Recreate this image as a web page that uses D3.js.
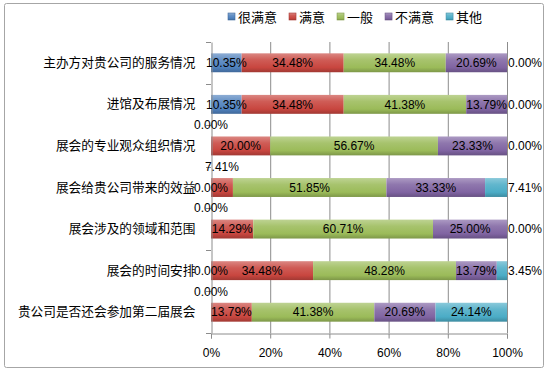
<!DOCTYPE html>
<html>
<head>
<meta charset="utf-8">
<script src="https://cdn.jsdelivr.net/npm/d3@7"></script>
<style>
  body { margin: 0; background: #fff; }
  svg text { font-family: "Liberation Sans", Arial, sans-serif; }
  .cat, .leg { font-family: "Noto Sans CJK SC", "Noto Sans", sans-serif; }
</style>
</head>
<body>
<svg id="chart" width="550" height="374"></svg>
<script>
// ---- data ----
const categories = [
  "主办方对贵公司的服务情况",
  "进馆及布展情况",
  "展会的专业观众组织情况",
  "展会给贵公司带来的效益",
  "展会涉及的领域和范围",
  "展会的时间安排",
  "贵公司是否还会参加第二届展会"
];
const seriesNames = ["很满意", "满意", "一般", "不满意", "其他"];
const seriesColors = ["#4f81bd", "#c8463f", "#9bbb59", "#8064a2", "#4bacc6"];

// percent per category, one array per series
const veryGood = [10.35, 10.35, 0.00, 0.00, 0.00, 0.00, 0.00];
const good     = [34.48, 34.48, 20.00, 7.41, 14.29, 34.48, 13.79];
const average  = [34.48, 41.38, 56.67, 51.85, 60.71, 48.28, 41.38];
const bad      = [20.69, 13.79, 23.33, 33.33, 25.00, 13.79, 20.69];
const other    = [0.00, 0.00, 0.00, 7.41, 0.00, 3.45, 24.14];
const seriesValues = [veryGood, good, average, bad, other];

const xTicks = [0, 0.2, 0.4, 0.6, 0.8, 1.0];

// ---- layout ----
const svg = d3.select("#chart");
const plot = { left: 211, right: 507, top: 42, bottom: 333 };

const x = d3.scaleLinear().domain([0, 1]).range([plot.left, plot.right]);
const y = d3.scaleBand().domain(categories)
  .range([plot.top, plot.bottom])
  .paddingInner(0.545).paddingOuter(0.2725);

// outer frame
svg.append("rect")
  .attr("x", 4.5).attr("y", 3.5).attr("width", 539).attr("height", 364)
  .attr("fill", "#fff").attr("stroke", "#a6a6a6").attr("rx", 2);

// gradients for the bevelled bar look
const defs = svg.append("defs");
seriesColors.forEach((c, i) => {
  const base = d3.color(c);
  const g = defs.append("linearGradient")
    .attr("id", "grad" + i).attr("x1", 0).attr("y1", 0).attr("x2", 0).attr("y2", 1);
  g.append("stop").attr("offset", "0%").attr("stop-color", d3.interpolateRgb(c, "#fff")(0.35));
  g.append("stop").attr("offset", "35%").attr("stop-color", d3.interpolateRgb(c, "#fff")(0.12));
  g.append("stop").attr("offset", "75%").attr("stop-color", c);
  g.append("stop").attr("offset", "100%").attr("stop-color", base.darker(0.6));
});

// vertical gridlines
svg.append("g")
  .selectAll("line")
  .data(xTicks.slice(1))
  .join("line")
  .attr("x1", d => x(d) + 0.5).attr("x2", d => x(d) + 0.5)
  .attr("y1", plot.top).attr("y2", plot.bottom)
  .attr("stroke", "#8c8c8c");

// stacked data
const stackRows = categories.map((cat, ci) => {
  let acc = 0;
  return seriesValues.map((vals, si) => {
    const v = vals[ci] / 100;
    const seg = { cat, si, value: vals[ci], x0: acc, x1: acc + v };
    acc += v;
    return seg;
  });
});

// bars
const bh = y.bandwidth();
svg.append("g")
  .selectAll("rect")
  .data(stackRows.flat().filter(d => d.value > 0))
  .join("rect")
  .attr("x", d => x(d.x0))
  .attr("y", d => y(d.cat))
  .attr("width", d => x(d.x1) - x(d.x0))
  .attr("height", bh)
  .attr("fill", d => `url(#grad${d.si})`);

// axes
const xAxis = svg.append("g")
  .attr("transform", `translate(0,${plot.bottom + 0.5})`)
  .call(d3.axisBottom(x).tickValues(xTicks).tickFormat(d3.format(".0%")).tickSize(5).tickPadding(10));
const yAxis = svg.append("g")
  .attr("transform", `translate(${plot.left + 0.5},0)`)
  .call(d3.axisLeft(y).tickSize(0).tickPadding(16));
[xAxis, yAxis].forEach(a => {
  a.select(".domain").attr("stroke", "#8c8c8c");
  a.selectAll(".tick line").attr("stroke", "#8c8c8c");
});
xAxis.selectAll("text").attr("font-size", 12).attr("fill", "#000")
  .attr("font-family", "Liberation Sans, Arial, sans-serif");
yAxis.selectAll("text").attr("class", "cat").attr("font-size", 12.7).attr("fill", "#000");

// y-axis ticks at band boundaries
const bounds = categories.map(c => y(c) - y.step() * y.paddingInner() / 2).concat([plot.bottom]);
svg.append("g").selectAll("line")
  .data(bounds)
  .join("line")
  .attr("x1", plot.left - 5).attr("x2", plot.left)
  .attr("y1", d => Math.round(d) + 0.5).attr("y2", d => Math.round(d) + 0.5)
  .attr("stroke", "#8c8c8c");

// data labels
const labelG = svg.append("g").attr("font-size", 12).attr("fill", "#000");
stackRows.forEach(row => {
  const cy = y(row[0].cat) + bh / 2;
  const labs = row.map(seg => {
    const t = labelG.append("text")
      .attr("text-anchor", "middle")
      .attr("dy", "0.35em")
      .text(seg.value.toFixed(2) + "%");
    const w = t.node().getComputedTextLength();
    return { seg, t, w, cx: (x(seg.x0) + x(seg.x1)) / 2, cy, anchor: "middle" };
  });
  const fits = l => l.w <= x(l.seg.x1) - x(l.seg.x0);
  // last series: push outside the bar end when it does not fit
  const last = labs[labs.length - 1];
  if (!fits(last)) { last.cx = x(1) + 1; last.anchor = "start"; }
  // first two labels colliding: lift one of them above the bar
  const a = labs[0], b = labs[1];
  if (a.cx + a.w / 2 > b.cx - b.w / 2) {
    const lifted = fits(b) ? a : b;
    lifted.cy = cy - y.step() / 2;
  }
  labs.forEach(l => l.t.attr("x", l.cx).attr("y", l.cy).attr("text-anchor", l.anchor));
});

// legend
const legend = svg.append("g").attr("class", "leg").attr("font-size", 13);
let lx = 0;
seriesNames.forEach((name, i) => {
  const g = legend.append("g").attr("transform", `translate(${lx},0)`);
  g.append("rect").attr("x", 0).attr("y", -4).attr("width", 7).attr("height", 7)
    .attr("fill", `url(#grad${i})`).attr("stroke", d3.color(seriesColors[i]).darker(0.5)).attr("stroke-width", 0.6);
  const t = g.append("text").attr("class", "leg").attr("x", 10).attr("dy", "0.35em").text(name);
  lx += 10 + t.node().getComputedTextLength() + 12;
});
legend.attr("transform", `translate(${Math.round(355 - (lx - 12) / 2)},17)`);
</script>
</body>
</html>
